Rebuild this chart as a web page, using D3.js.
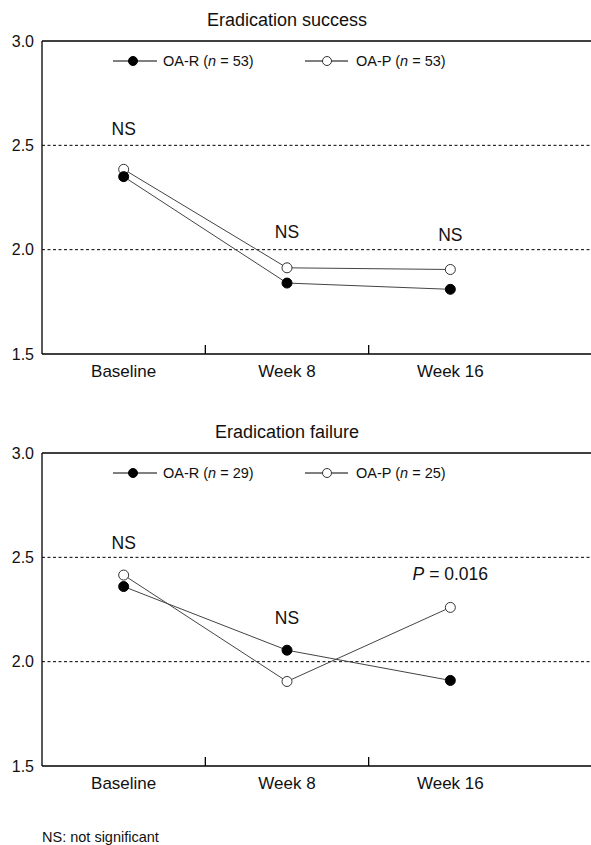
<!DOCTYPE html>
<html lang="en">
<head>
<meta charset="utf-8">
<script src="https://d3js.org/d3.v7.min.js"></script>
<style>
  body { margin: 0; background: #fff; }
  svg text { font-family: "Liberation Sans", Arial, Helvetica, sans-serif; fill: #111; }
</style>
</head>
<body>
<svg id="chart" width="591" height="845"></svg>
<script>
// data
var categories = ["Baseline", "Week 8", "Week 16"];
var yTicks = [1.5, 2.0, 2.5, 3.0];
var gridValues = [2.0, 2.5];

var successR = [2.35, 1.84, 1.81];
var successP = [2.385, 1.913, 1.905];
var successLabels = ["NS", "NS", "NS"];

var failureR = [2.36, 2.055, 1.91];
var failureP = [2.415, 1.905, 2.26];
var failureLabels = ["NS", "NS", "P = 0.016"];

var panels = [
  { title: "Eradication success", top: 41, r: successR, p: successP, nR: 53, nP: 53,
    labels: successLabels, labelY: [2.58, 2.085, 2.07] },
  { title: "Eradication failure", top: 453, r: failureR, p: failureP, nR: 29, nP: 25,
    labels: failureLabels, labelY: [2.57, 2.21, 2.42] }
];

var svg = d3.select("#chart");
var left = 42, right = 591, plotH = 313;

var x = d3.scaleBand().domain(categories).range([left, 532]);

panels.forEach(function(pn) {
  var g = svg.append("g");
  var y = d3.scaleLinear().domain([1.5, 3.0]).range([pn.top + plotH, pn.top]);

  g.append("text")
    .attr("x", 287).attr("y", pn.top - 21).attr("dy", "0.35em")
    .attr("text-anchor", "middle")
    .style("font-size", "18px")
    .text(pn.title);

  // dashed reference lines
  g.selectAll(".grid").data(gridValues).enter().append("line")
    .attr("x1", left).attr("x2", right)
    .attr("y1", function(d) { return y(d); })
    .attr("y2", function(d) { return y(d); })
    .attr("stroke", "#000").attr("stroke-width", 1)
    .attr("stroke-dasharray", "3,2.5");

  // frame: top, left, bottom
  g.append("line").attr("x1", left).attr("x2", right)
    .attr("y1", y(3.0)).attr("y2", y(3.0))
    .attr("stroke", "#000").attr("stroke-width", 1.3);
  g.append("line").attr("x1", left).attr("x2", left)
    .attr("y1", y(3.0)).attr("y2", y(1.5))
    .attr("stroke", "#000").attr("stroke-width", 1.3);
  g.append("line").attr("x1", left).attr("x2", right)
    .attr("y1", y(1.5)).attr("y2", y(1.5))
    .attr("stroke", "#000").attr("stroke-width", 1.3);

  // y tick labels
  g.selectAll(".ylab").data(yTicks).enter().append("text")
    .attr("x", 34).attr("y", function(d) { return y(d); })
    .attr("dy", "0.35em").attr("text-anchor", "end")
    .style("font-size", "16px")
    .text(function(d) { return d3.format(".1f")(d); });

  // inner x ticks between categories
  g.selectAll(".xtick").data(categories.slice(1)).enter().append("line")
    .attr("x1", function(d) { return x(d); })
    .attr("x2", function(d) { return x(d); })
    .attr("y1", y(1.5)).attr("y2", y(1.5) - 9)
    .attr("stroke", "#000").attr("stroke-width", 1.3);

  g.selectAll(".xlab").data(categories).enter().append("text")
    .attr("x", function(d) { return x(d) + x.bandwidth() / 2; })
    .attr("y", y(1.5) + 17).attr("dy", "0.35em")
    .attr("text-anchor", "middle")
    .style("font-size", "17px")
    .text(function(d) { return d; });

  var cx = function(d, i) { return x(categories[i]) + x.bandwidth() / 2; };
  var line = d3.line().x(function(d, i) { return cx(d, i); }).y(function(d) { return y(d); });

  [pn.r, pn.p].forEach(function(series) {
    g.append("path").datum(series)
      .attr("d", line).attr("fill", "none")
      .attr("stroke", "#444").attr("stroke-width", 1);
  });
  [pn.p, pn.r].forEach(function(series) {
    var filled = series === pn.r;
    g.selectAll(null).data(series).enter().append("circle")
      .attr("cx", cx).attr("cy", function(d) { return y(d); })
      .attr("r", 5)
      .attr("fill", filled ? "#000" : "#fff")
      .attr("stroke", filled ? "#000" : "#333").attr("stroke-width", 1);
  });

  // significance labels
  g.selectAll(".sig").data(pn.labels).enter().append("text")
    .attr("x", function(d, i) { return cx(d, i); })
    .attr("y", function(d, i) { return y(pn.labelY[i]); })
    .attr("dy", "0.35em").attr("text-anchor", "middle")
    .style("font-size", "17.5px")
    .each(function(d) {
      var t = d3.select(this);
      if (d.indexOf("P") === 0) {
        t.append("tspan").style("font-style", "italic").text("P");
        t.append("tspan").text(d.slice(1));
      } else {
        t.text(d);
      }
    });

  // legend
  var legY = pn.top + 20;
  var legend = [
    { name: "OA-R", n: pn.nR, filled: true, x1: 113, x2: 157, mx: 133, tx: 163 },
    { name: "OA-P", n: pn.nP, filled: false, x1: 305, x2: 348, mx: 327, tx: 356 }
  ];
  legend.forEach(function(l) {
    g.append("line").attr("x1", l.x1).attr("x2", l.x2)
      .attr("y1", legY).attr("y2", legY)
      .attr("stroke", "#000").attr("stroke-width", 1);
    g.append("circle").attr("cx", l.mx).attr("cy", legY).attr("r", 4.5)
      .attr("fill", l.filled ? "#000" : "#fff")
      .attr("stroke", l.filled ? "#000" : "#333").attr("stroke-width", 1);
    var t = g.append("text").attr("x", l.tx).attr("y", legY).attr("dy", "0.35em")
      .style("font-size", "14.5px");
    t.append("tspan").text(l.name + " (");
    t.append("tspan").style("font-style", "italic").text("n");
    t.append("tspan").text(" = " + l.n + ")");
  });
});

svg.append("text")
  .attr("x", 42).attr("y", 837).attr("dy", "0.35em")
  .style("font-size", "14.5px")
  .text("NS: not significant");
</script>
</body>
</html>
